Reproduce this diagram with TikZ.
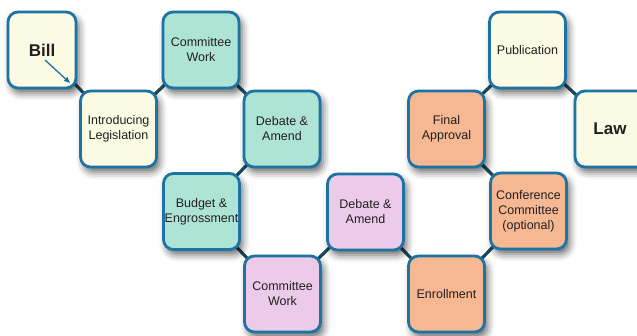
\documentclass[tikz,border=0pt]{standalone}
\usepackage{fontspec}
\setmainfont{Liberation Sans}
\usetikzlibrary{shadows.blur,backgrounds,arrows.meta}
\definecolor{bordc}{HTML}{1D74A2}
\definecolor{linkc}{HTML}{1B4A5C}
\definecolor{yelc}{HTML}{FBFBE4}
\definecolor{tealc}{HTML}{AEE4D6}
\definecolor{pinkc}{HTML}{ECCBEA}
\definecolor{orgc}{HTML}{F6B892}
\definecolor{txtc}{HTML}{231F20}
\tikzset{
  stage/.style={draw=bordc, line width=2.8pt, rounded corners=10pt,
    minimum width=76pt, minimum height=76pt, inner sep=0pt, align=center,
    text=txtc, font=\fontsize{12.5pt}{15pt}\selectfont,
    blur shadow={shadow xshift=3pt, shadow yshift=-5pt, shadow blur radius=7pt, shadow opacity=60}},
  big/.style={font=\fontsize{17pt}{20pt}\selectfont\bfseries},
  link/.style={draw=linkc, line width=3.2pt},
}
\begin{document}
\begin{tikzpicture}[x=1pt,y=-1pt]
\useasboundingbox (0,0) rectangle (637,335);
\node[stage, fill=yelc, big, minimum width=68pt] (bill) at (42,50) {Bill};
\node[stage, fill=yelc] (intro) at (118.5,129) {Introducing\\Legislation};
\node[stage, fill=tealc] (cw1) at (201,50) {Committee\\Work};
\node[stage, fill=tealc] (da1) at (282,129) {Debate \&\\Amend};
\node[stage, fill=tealc] (budget) at (201.5,211.5) {Budget \&\\Engrossment};
\node[stage, fill=pinkc] (cw2) at (282.5,294) {Committee\\Work};
\node[stage, fill=pinkc] (da2) at (365.5,212) {Debate \&\\Amend};
\node[stage, fill=orgc] (enr) at (446.5,294) {Enrollment};
\node[stage, fill=orgc] (conf) at (528.5,211) {Conference\\Committee\\(optional)};
\node[stage, fill=orgc] (final) at (446.5,129) {Final\\Approval};
\node[stage, fill=yelc] (pub) at (527.5,50) {Publication};
\node[stage, fill=yelc, big] (law) at (613,129) {\hspace*{-6pt}Law};
\coordinate (billA) at (45,60);
\coordinate (billB) at (70,83);
\draw[draw=bordc, line width=1.3pt, -{Triangle[length=6pt,width=5pt]}] (billA) -- (billB);
\begin{pgfonlayer}{background}
\draw[link] (bill.center) -- (intro.center);
\draw[link] (intro.center) -- (cw1.center);
\draw[link] (cw1.center) -- (da1.center);
\draw[link] (da1.center) -- (budget.center);
\draw[link] (budget.center) -- (cw2.center);
\draw[link] (cw2.center) -- (da2.center);
\draw[link] (da2.center) -- (enr.center);
\draw[link] (enr.center) -- (conf.center);
\draw[link] (conf.center) -- (final.center);
\draw[link] (final.center) -- (pub.center);
\draw[link] (pub.center) -- (law.center);
\end{pgfonlayer}
\end{tikzpicture}
\end{document}
